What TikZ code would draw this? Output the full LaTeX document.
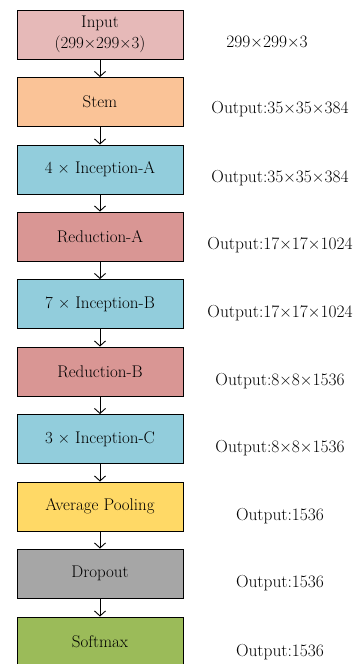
\documentclass[tikz,border=0pt]{standalone}
\usetikzlibrary{arrows.meta}
\definecolor{cinput}{HTML}{E6B9B8}
\definecolor{cstem}{HTML}{FAC397}
\definecolor{cinc}{HTML}{92CDDC}
\definecolor{cred}{HTML}{D99694}
\definecolor{cavg}{HTML}{FFD966}
\definecolor{cdrop}{HTML}{A6A6A6}
\definecolor{csoft}{HTML}{9BBB59}
\begin{document}
\begin{tikzpicture}[x=1bp,y=-1bp,
  blk/.style={draw=black,line width=0.9bp,minimum width=166bp,minimum height=49bp,inner sep=0pt,align=center,font=\fontsize{17}{21}\selectfont},
  lbl/.style={font=\fontsize{17.5}{20}\selectfont,inner sep=0pt},
  arr/.style={-{Straight Barb[length=5bp,width=11bp]},line width=0.9bp}]
\useasboundingbox (0,0) rectangle (359,664);
\begin{scope}
\clip (0,0) rectangle (359,664);
\node[blk,fill=cinput] (n1) at (100,34.5) {Input\\(299×299×3)};
\node[blk,fill=cstem] (n2) at (100,102) {Stem};
\node[blk,fill=cinc] (n3) at (100,169.5) {4 × Inception-A};
\node[blk,fill=cred] (n4) at (100,236.5) {Reduction-A};
\node[blk,fill=cinc] (n5) at (100,304) {7 × Inception-B};
\node[blk,fill=cred] (n6) at (100,371.5) {Reduction-B};
\node[blk,fill=cinc] (n7) at (100,439) {3 × Inception-C};
\node[blk,fill=cavg] (n8) at (100,506.5) {Average Pooling};
\node[blk,fill=cdrop] (n9) at (100,573.5) {Dropout};
\node[blk,fill=csoft] (n10) at (100,641.5) {Softmax};
\end{scope}
\foreach \a/\b in {n1/n2,n2/n3,n3/n4,n4/n5,n5/n6,n6/n7,n7/n8,n8/n9,n9/n10}
  \draw[arr] (\a.south) -- (\b.north);
\node[lbl] (l1) at (267,42) {299×299×3};
\node[lbl] (l2) at (280,109) {Output:35×35×384};
\node[lbl] (l3) at (280,178) {Output:35×35×384};
\node[lbl] (l4) at (280,245) {Output:17×17×1024};
\node[lbl] (l5) at (280,313) {Output:17×17×1024};
\node[lbl] (l6) at (280,381) {Output:8×8×1536};
\node[lbl] (l7) at (280,448) {Output:8×8×1536};
\node[lbl] (l8) at (280,516) {Output:1536};
\node[lbl] (l9) at (280,583) {Output:1536};
\node[lbl] (l10) at (280,652) {Output:1536};
\end{tikzpicture}
\end{document}
